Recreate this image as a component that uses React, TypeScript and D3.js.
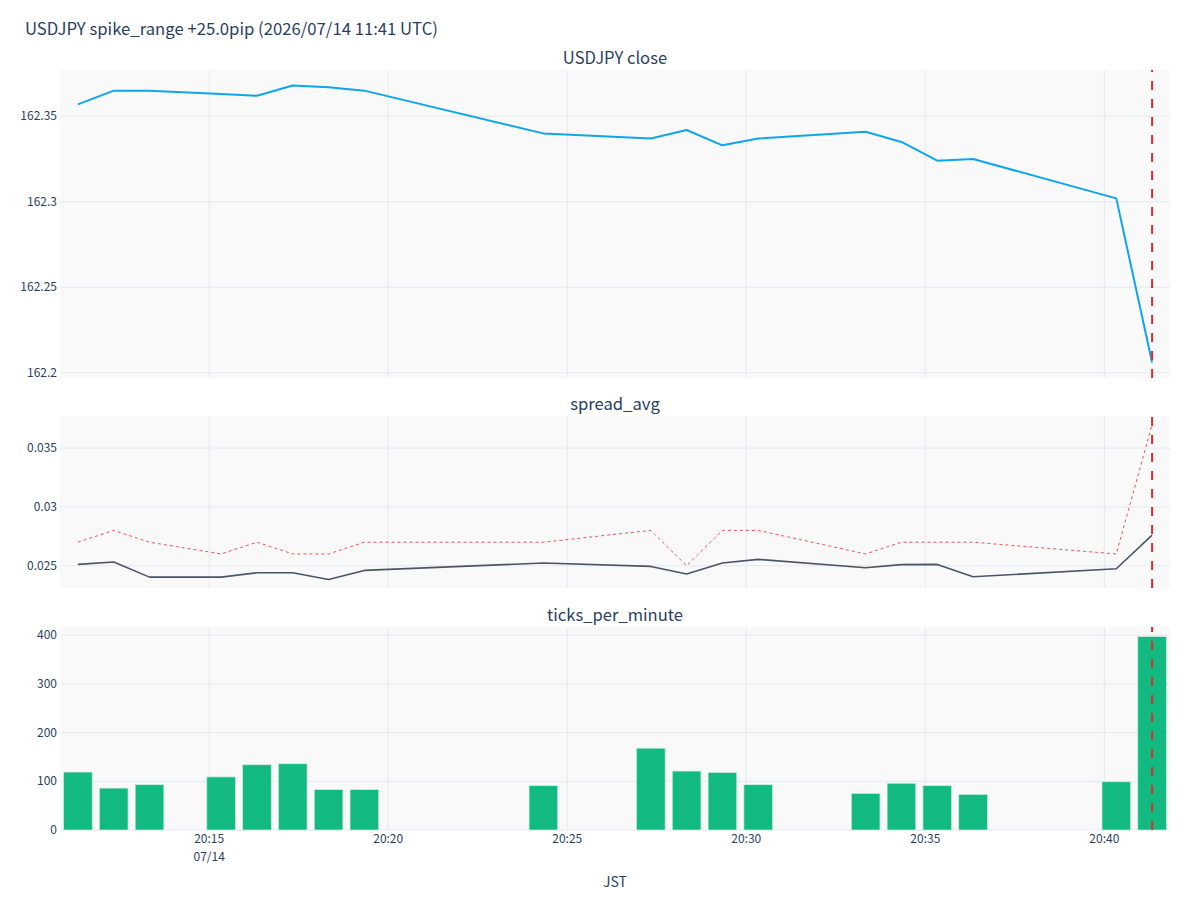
import React from 'react';
import * as d3 from 'd3';

// JST minute stamps (only minutes that have data)
const times = [
  '20:11:20', '20:12:20', '20:13:20', '20:15:20', '20:16:20', '20:17:20', '20:18:20',
  '20:19:20', '20:24:20', '20:27:20', '20:28:20', '20:29:20', '20:30:20', '20:33:20',
  '20:34:20', '20:35:20', '20:36:20', '20:40:20', '20:41:20',
];
const closeVals = [
  162.357, 162.365, 162.365, 162.363, 162.362, 162.368, 162.367, 162.365, 162.34, 162.337,
  162.342, 162.333, 162.337, 162.341, 162.335, 162.324, 162.325, 162.302, 162.206,
];
const spreadAvg = [
  0.02511, 0.02531, 0.02403, 0.02403, 0.0244, 0.0244, 0.02383, 0.0246, 0.02523, 0.02494,
  0.02429, 0.02523, 0.02554, 0.02483, 0.02509, 0.02511, 0.02406, 0.02474, 0.0276,
];
const spreadMax = [
  0.027, 0.028, 0.027, 0.026, 0.027, 0.026, 0.026, 0.027, 0.027, 0.028,
  0.025, 0.028, 0.028, 0.026, 0.027, 0.027, 0.027, 0.026, 0.037,
];
const ticksPerMin = [119, 86, 93, 109, 134, 136, 83, 83, 91, 168, 121, 118, 93, 75, 96, 91, 73, 99, 397];

const titleText = 'USDJPY spike_range +25.0pip (2026/07/14 11:41 UTC)';
const panelTitles = ['USDJPY close', 'spread_avg', 'ticks_per_minute'];
const spikeTime = '20:41:20';

const FONT = '"Noto Sans CJK JP", "Noto Sans", "Open Sans", sans-serif';
const TXT = '#2a3f5f';
const GRID = '#e4e8ef';
const BG = '#f9f9f9';

const parse = (t: string) => {
  const [h, m, s] = t.split(':').map(Number);
  return new Date(Date.UTC(2026, 6, 14, h, m, s));
};
const dates = times.map(parse);

const left = 60;
const right = 1170;
const panels = [
  { top: 70, bottom: 378 },
  { top: 416, bottom: 588 },
  { top: 627, bottom: 830 },
];

const fmtNum = (d: number) => String(+d.toFixed(5));

const App = () => {
  const half = 30 * 1000;
  const x = d3.scaleUtc()
    .domain([new Date(+dates[0] - half), new Date(+dates[dates.length - 1] + half)])
    .range([left, right]);
  const xTicks = x.ticks(d3.utcMinute.every(5)!);
  const slot = x(new Date(+dates[0] + 60000)) - x(dates[0]);
  const barW = slot * 0.8;

  const pad = (lo: number, hi: number, f: number) => [lo - (hi - lo) * f, hi + (hi - lo) * f];

  const [cLo, cHi] = d3.extent(closeVals) as [number, number];
  const yClose = d3.scaleLinear().domain(pad(cLo, cHi, 0.056)).range([panels[0].bottom, panels[0].top]);

  const sLo = d3.min(spreadAvg.concat(spreadMax))!;
  const sHi = d3.max(spreadAvg.concat(spreadMax))!;
  const ySpread = d3.scaleLinear().domain(pad(sLo, sHi, 0.055)).range([panels[1].bottom, panels[1].top]);

  const yTicks = d3.scaleLinear().domain([0, d3.max(ticksPerMin)! * 1.05]).range([panels[2].bottom, panels[2].top]);

  const scales = [yClose, ySpread, yTicks];
  const tickCounts = [4, 3, 5];

  const lineOf = (vals: number[], y: d3.ScaleLinear<number, number>) =>
    d3.line<number>().x((_, i) => x(dates[i])).y((v) => y(v))(vals) || '';

  const spikeX = x(parse(spikeTime));

  return (
    <svg width={1200} height={900} style={{ position: 'absolute', left: 0, top: 0, background: '#fff' }}
      fontFamily={FONT}>
      <text x={25} y={35} fontSize={16.7} fill={TXT}>{titleText}</text>

      {panels.map((p, k) => {
        const y = scales[k];
        return (
          <g key={k}>
            <rect x={left} y={p.top} width={right - left} height={p.bottom - p.top} fill={BG} />
            {xTicks.map((t, i) => (
              <line key={'vx' + i} x1={x(t)} x2={x(t)} y1={p.top} y2={p.bottom} stroke={GRID} strokeWidth={1} />
            ))}
            {y.ticks(tickCounts[k]).map((t, i) => (
              <g key={'hy' + i}>
                <line x1={left} x2={right} y1={y(t)} y2={y(t)} stroke={GRID} strokeWidth={1} />
                <text x={57} y={y(t) + 4} fontSize={12} fill={TXT} textAnchor="end">{fmtNum(t)}</text>
              </g>
            ))}
            <text x={(left + right) / 2} y={p.top - 6.5} fontSize={16.6} fill={TXT} textAnchor="middle">
              {panelTitles[k]}
            </text>
          </g>
        );
      })}

      <path d={lineOf(closeVals, yClose)} fill="none" stroke="#0ea5e9" strokeWidth={2} strokeLinejoin="round" />

      <path d={lineOf(spreadMax, ySpread)} fill="none" stroke="#f05252" strokeWidth={1} strokeDasharray="3,3" />
      <path d={lineOf(spreadAvg, ySpread)} fill="none" stroke="#4a5568" strokeWidth={1.6} strokeLinejoin="round" />

      {ticksPerMin.map((v, i) => (
        <rect key={'b' + i} x={x(dates[i]) - barW / 2} y={yTicks(v)} width={barW}
          height={yTicks(0) - yTicks(v)} fill="#12b981" stroke="#c9eedf" strokeWidth={0.7} />
      ))}

      {panels.map((p, k) => (
        <path key={'sp' + k} d={`M${spikeX},${p.bottom}V${p.top}`} stroke="#e02a2a" strokeWidth={2}
          strokeDasharray="9,9" fill="none" />
      ))}

      {xTicks.map((t, i) => (
        <g key={'xt' + i}>
          <text x={x(t)} y={843} fontSize={12} fill={TXT} textAnchor="middle">{d3.utcFormat('%H:%M')(t)}</text>
          {i === 0 && (
            <text x={x(t)} y={861} fontSize={12} fill={TXT} textAnchor="middle">{d3.utcFormat('%m/%d')(t)}</text>
          )}
        </g>
      ))}
      <text x={(left + right) / 2} y={887} fontSize={14} fill={TXT} textAnchor="middle">JST</text>
    </svg>
  );
};

export default App;
